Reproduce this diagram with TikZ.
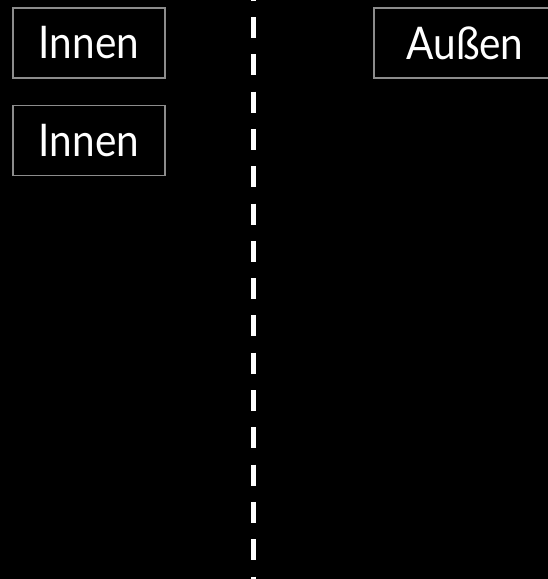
\documentclass[tikz,border=0pt]{standalone}
\usepackage{fontspec}
\newfontfamily\fachfont[FakeStretch=0.9]{Lato}
\usetikzlibrary{positioning}

\tikzset{
    fach/.style={draw=black!45, line width=1.4pt, fill=black, text=white,
        minimum height=70pt, inner sep=0pt,
        font=\fachfont\fontsize{45}{54}\selectfont},
    grenze/.style={draw=white, line width=5pt,
        dash pattern=on 21pt off 16.3pt, dash phase=20.3pt}
}

\begin{document}
\begin{tikzpicture}[x=1pt, y=-1pt]
            \fill[black] (0,0) rectangle (548,579);
            \useasboundingbox (0,0) rectangle (548,579);

            \node[fach, minimum width=152pt] (innenA) at (89,43) {Innen};
            \node[fach, minimum width=152pt, below=26pt of innenA] (innenB) {Innen};
            \node[fach, minimum width=182pt] (aussen) at (465,43) {Außen};

            \coordinate (oben) at (253.5,0);
            \coordinate (unten) at (253.5,579);
            \draw[grenze] (oben) -- (unten);
        \end{tikzpicture}
\end{document}
